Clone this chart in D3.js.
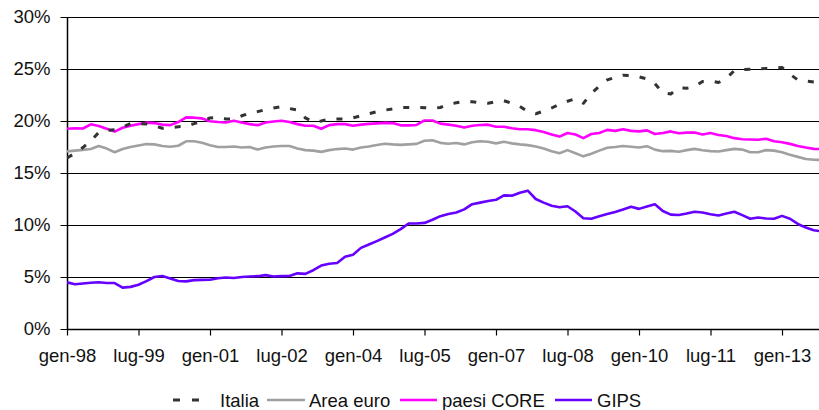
<!DOCTYPE html>
<html><head><meta charset="utf-8">
<script src="https://cdn.jsdelivr.net/npm/d3@7"></script>
<style>body{margin:0;background:#fff}svg{display:block;font-family:"Liberation Sans",Arial,sans-serif}</style>
</head><body><svg id="c" width="819" height="410"></svg>
<script>
// month index (0 = gen-98), bimonthly observations
const monthStep = 2;
const tickMonths = [0,18,36,54,72,90,108,126,144,162,180];
const tickLabels = ["gen-98","lug-99","gen-01","lug-02","gen-04","lug-05","gen-07","lug-08","gen-10","lug-11","gen-13"];
const yTicks = [0,5,10,15,20,25,30];
const seriesNames = ["Italia","Area euro","paesi CORE","GIPS"];

const italia = [
16.45,16.9,17.45,18.1,18.9,19.1,
19.15,19.4,19.75,19.75,19.72,19.55,
19.3,19.35,19.45,19.5,19.75,19.95,
20.3,20.35,20.2,20.2,20.5,20.75,
20.9,21.1,21.25,21.38,21.2,21.05,
20.3,19.9,20.0,20.17,20.2,20.2,
20.3,20.5,20.7,20.9,21.05,21.15,
21.28,21.3,21.3,21.28,21.22,21.3,
21.6,21.75,21.88,21.85,21.75,21.7,
21.85,21.95,21.7,21.4,20.9,20.7,
20.95,21.25,21.6,21.9,22.15,21.7,
22.65,23.35,23.95,24.2,24.4,24.35,
24.25,24.05,23.6,22.7,22.6,23.2,
23.15,23.3,23.8,23.85,23.7,24.1,
24.85,24.95,24.97,25.0,25.06,25.1,
25.15,24.5,23.95,23.85,23.75,23.7];

const areaEuro = [
17.08,17.15,17.22,17.3,17.6,17.35,
17.0,17.3,17.5,17.65,17.78,17.75,
17.6,17.52,17.62,18.05,18.05,17.9,
17.66,17.5,17.5,17.55,17.45,17.5,
17.25,17.45,17.55,17.6,17.6,17.35,
17.2,17.15,17.03,17.2,17.3,17.35,
17.25,17.45,17.55,17.7,17.82,17.75,
17.7,17.75,17.8,18.1,18.15,17.9,
17.82,17.88,17.75,17.95,18.05,18.0,
17.85,18.0,17.85,17.75,17.68,17.55,
17.35,17.1,16.9,17.2,16.9,16.6,
16.85,17.15,17.42,17.5,17.6,17.52,
17.45,17.58,17.25,17.1,17.13,17.05,
17.2,17.32,17.18,17.1,17.07,17.2,
17.32,17.25,17.0,17.0,17.2,17.15,
17.0,16.75,16.55,16.35,16.28,16.25];

const paesiCore = [
19.26,19.3,19.28,19.68,19.52,19.25,
18.98,19.35,19.55,19.7,19.84,19.8,
19.65,19.6,19.9,20.35,20.32,20.25,
19.98,19.9,19.85,20.03,19.86,19.7,
19.6,19.86,19.95,20.02,19.9,19.7,
19.55,19.55,19.25,19.6,19.7,19.7,
19.55,19.65,19.72,19.77,19.82,19.8,
19.58,19.58,19.62,20.05,20.05,19.75,
19.65,19.55,19.38,19.55,19.62,19.65,
19.45,19.45,19.3,19.2,19.2,19.12,
18.95,18.7,18.5,18.85,18.7,18.35,
18.75,18.85,19.15,19.05,19.2,19.05,
19.0,19.1,18.75,18.85,19.0,18.82,
18.88,18.9,18.7,18.85,18.65,18.55,
18.35,18.25,18.22,18.2,18.3,18.05,
17.95,17.8,17.6,17.45,17.32,17.3];

const gips = [
4.49,4.3,4.38,4.45,4.5,4.42,
4.42,3.98,4.05,4.25,4.6,5.0,
5.1,4.85,4.62,4.58,4.7,4.72,
4.74,4.88,4.95,4.9,5.0,5.05,
5.08,5.18,5.05,5.08,5.1,5.35,
5.3,5.65,6.1,6.28,6.35,6.95,
7.15,7.8,8.12,8.45,8.8,9.15,
9.6,10.15,10.14,10.2,10.5,10.85,
11.05,11.2,11.5,12.0,12.15,12.3,
12.42,12.85,12.82,13.1,13.3,12.5,
12.15,11.85,11.7,11.8,11.3,10.65,
10.6,10.85,11.05,11.25,11.5,11.75,
11.55,11.78,12.0,11.35,11.0,10.96,
11.1,11.28,11.2,11.03,10.92,11.1,
11.28,10.95,10.6,10.72,10.62,10.6,
10.88,10.6,10.1,9.75,9.5,9.38];

const colors = ["#333333","#a0a0a0","#ff00ff","#6600ff"];
const allSeries = [italia, areaEuro, paesiCore, gips];

const svg = d3.select("#c");
const W = 819, H = 410;
const FS = 18.5;
const x = d3.scaleLinear().domain([0,180]).range([67,782]);
const y = d3.scaleLinear().domain([0,30]).range([329,17]);

svg.append("defs").append("clipPath").attr("id","clip")
  .append("rect").attr("x",67).attr("y",0).attr("width",W-67).attr("height",340);

// gridlines
svg.append("g").selectAll("line").data(yTicks.filter(d=>d>0)).join("line")
  .attr("x1",67).attr("x2",W).attr("y1",d=>Math.round(y(d))+0.5).attr("y2",d=>Math.round(y(d))+0.5)
  .attr("stroke","#000").attr("stroke-width",1);

// y axis
const yAxis = d3.axisLeft(y).tickValues(yTicks).tickFormat(d=>d+"%").tickSize(7).tickPadding(10);
const gy = svg.append("g").attr("transform","translate(67.5,0)").call(yAxis);
gy.select(".domain").attr("d","M0,17V329.5").attr("stroke","#000").attr("stroke-width",1.5);
gy.selectAll(".tick line").attr("stroke","#000");
gy.selectAll("text").attr("font-size",FS).attr("fill","#111").attr("font-family","Liberation Sans, Arial, sans-serif");

// x axis
const xAxis = d3.axisBottom(x).tickValues(tickMonths).tickFormat((d,i)=>tickLabels[i]).tickSize(6).tickPadding(13);
const gx = svg.append("g").attr("transform","translate(0,329.5)").call(xAxis);
gx.select(".domain").attr("d","M67,0H"+W).attr("stroke","#000").attr("stroke-width",1.5);
gx.selectAll(".tick line").attr("stroke","#000").attr("stroke-width",1.2);
gx.selectAll("text").attr("font-size",FS).attr("fill","#111").attr("font-family","Liberation Sans, Arial, sans-serif");

// lines
const line = d3.line().x((d,i)=>x(i*monthStep)).y(d=>y(d));
const order = [1,2,3,0];
const plot = svg.append("g").attr("clip-path","url(#clip)");
order.forEach(k=>{
  const p = plot.append("path").datum(allSeries[k]).attr("d",line)
    .attr("fill","none").attr("stroke",colors[k]).attr("stroke-width",k===0?3:2.6)
    .attr("stroke-linejoin","round");
  if(k===0) p.attr("stroke-dasharray","6,11");
});

// legend
const legendItems = [
  {name:seriesNames[0], x0:173, x1:206, tx:220, c:colors[0], dash:"7,12"},
  {name:seriesNames[1], x0:267, x1:305, tx:309, c:colors[1]},
  {name:seriesNames[2], x0:400, x1:437, tx:442, c:colors[2]},
  {name:seriesNames[3], x0:555, x1:592, tx:597, c:colors[3]}
];
const lg = svg.append("g");
legendItems.forEach(it=>{
  const l = lg.append("line").attr("x1",it.x0).attr("x2",it.x1).attr("y1",400).attr("y2",400)
    .attr("stroke",it.c).attr("stroke-width",it.dash?3:2.6);
  if(it.dash) l.attr("stroke-dasharray",it.dash);
  lg.append("text").attr("x",it.tx).attr("y",406.5).attr("font-size",FS).attr("fill","#111").text(it.name);
});
</script></body></html>
